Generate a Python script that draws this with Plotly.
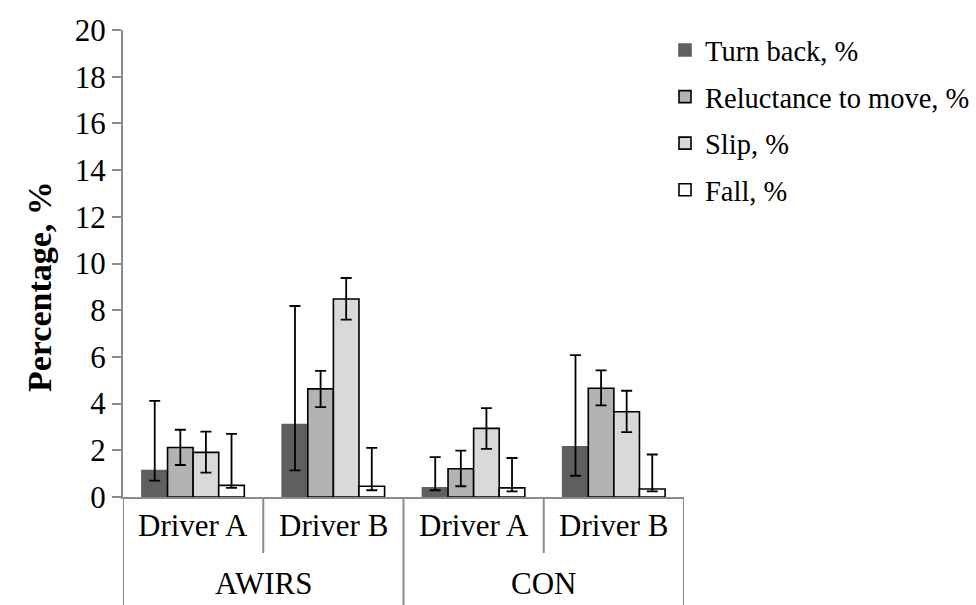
import plotly.graph_objects as go

# Categories: two-level (treatment / driver)
groups = ["AWIRS", "AWIRS", "CON", "CON"]
drivers = ["Driver A", "Driver B", "Driver A", "Driver B"]
cat_keys = [f"{g} {d}" for g, d in zip(groups, drivers)]

series_names = ["Turn back, %", "Reluctance to move, %", "Slip, %", "Fall, %"]

turn_back = [1.13, 3.10, 0.39, 2.15]
turn_back_hi = [4.12, 8.18, 1.71, 6.08]
turn_back_lo = [0.70, 1.14, 0.29, 0.91]

reluctance = [2.12, 4.63, 1.21, 4.66]
reluctance_hi = [2.88, 5.40, 1.99, 5.42]
reluctance_lo = [1.37, 3.85, 0.46, 3.92]

slip = [1.91, 8.48, 2.94, 3.65]
slip_hi = [2.80, 9.38, 3.81, 4.55]
slip_lo = [1.04, 7.60, 2.06, 2.78]

fall = [0.50, 0.46, 0.39, 0.34]
fall_hi = [2.70, 2.10, 1.67, 1.82]
fall_lo = [0.39, 0.29, 0.24, 0.24]

y_ticks = [0, 2, 4, 6, 8, 10, 12, 14, 16, 18, 20]

fill_colors = ["#5f5f5f", "#b3b3b3", "#d9d9d9", "#ffffff"]
edge_colors = ["#5f5f5f", "#000000", "#000000", "#000000"]

FONT = "Liberation Serif"
AXIS_GREY = "#8c8c8c"

# plot-area geometry (px)
PLOT_L, PLOT_R, PLOT_T, PLOT_B = 123, 684, 30, 497
W, H = 976, 605
PLOT_W = PLOT_R - PLOT_L
PLOT_H = PLOT_B - PLOT_T

fig = go.Figure()

series = [
    (turn_back, turn_back_hi, turn_back_lo),
    (reluctance, reluctance_hi, reluctance_lo),
    (slip, slip_hi, slip_lo),
    (fall, fall_hi, fall_lo),
]

for i, (name, (vals, hi, lo)) in enumerate(zip(series_names, series)):
    fig.add_trace(go.Bar(
        x=cat_keys,
        y=vals,
        name=name,
        legendgroup=name,
        marker=dict(color=fill_colors[i],
                    line=dict(color=edge_colors[i], width=1.6)),
        error_y=dict(
            type="data",
            symmetric=False,
            array=[h - v for h, v in zip(hi, vals)],
            arrayminus=[v - l for v, l in zip(vals, lo)],
            color="#000000",
            thickness=1.8,
            width=5.5,
        ),
    ))

# Category dividers below the axis: short between drivers, full between groups
shapes = []
n = len(cat_keys)
for k in range(n + 1):
    xpos = k - 0.5
    outer = k in (0, n) or groups[k - 1] != groups[k]
    shapes.append(dict(
        type="line", xref="x", yref="paper",
        x0=xpos, x1=xpos, y0=0,
        y1=(-(H - PLOT_B) / PLOT_H) if outer else (-56 / PLOT_H),
        line=dict(color=AXIS_GREY, width=2),
    ))

# Category labels
annotations = []
for key, d in zip(cat_keys, drivers):
    annotations.append(dict(
        x=key, y=-28 / PLOT_H, xref="x", yref="paper",
        text=d, showarrow=False, yanchor="middle",
        font=dict(family=FONT, size=31, color="#000000"),
    ))
for g in dict.fromkeys(groups):
    idx = [i for i, gg in enumerate(groups) if gg == g]
    annotations.append(dict(
        x=(idx[0] + idx[-1]) / 2, y=-86 / PLOT_H, xref="x", yref="paper",
        text=g, showarrow=False, yanchor="middle",
        font=dict(family=FONT, size=31, color="#000000"),
    ))

# Y-axis title
annotations.append(dict(
    x=-(PLOT_L - 40) / PLOT_W, y=(PLOT_B - 287) / PLOT_H,
    xref="paper", yref="paper", xanchor="center", yanchor="middle",
    text="<b>Percentage, %</b>", textangle=-90, showarrow=False,
    font=dict(family=FONT, size=34, color="#000000"),
))

fig.update_layout(
    width=W, height=H,
    margin=dict(l=PLOT_L, r=W - PLOT_R, t=PLOT_T, b=H - PLOT_B,
                autoexpand=False),
    paper_bgcolor="#ffffff",
    plot_bgcolor="#ffffff",
    barmode="group",
    bargap=0.27,
    bargroupgap=0,
    font=dict(family=FONT, size=28, color="#000000"),
    showlegend=True,
    legend=dict(
        x=(665 - PLOT_L) / PLOT_W, xanchor="left",
        y=1.0 + 5 / PLOT_H, yanchor="top",
        xref="paper", yref="paper",
        font=dict(family=FONT, size=28.5, color="#000000"),
        tracegroupgap=6.5,
        itemwidth=30,
        bgcolor="rgba(0,0,0,0)",
    ),
    xaxis=dict(
        type="category",
        categoryorder="array", categoryarray=cat_keys,
        range=[-0.5, n - 0.5],
        showticklabels=False,
        ticks="",
        showline=True, linecolor=AXIS_GREY, linewidth=2,
        showgrid=False, zeroline=False,
    ),
    yaxis=dict(
        range=[0, 20],
        tickvals=y_ticks,
        ticks="outside", ticklen=9, tickwidth=2, tickcolor=AXIS_GREY,
        showline=True, linecolor=AXIS_GREY, linewidth=2,
        showgrid=False, zeroline=False,
        tickfont=dict(family=FONT, size=31, color="#000000"),
    ),
    shapes=shapes,
    annotations=annotations,
)

fig.write_html("out.html")
